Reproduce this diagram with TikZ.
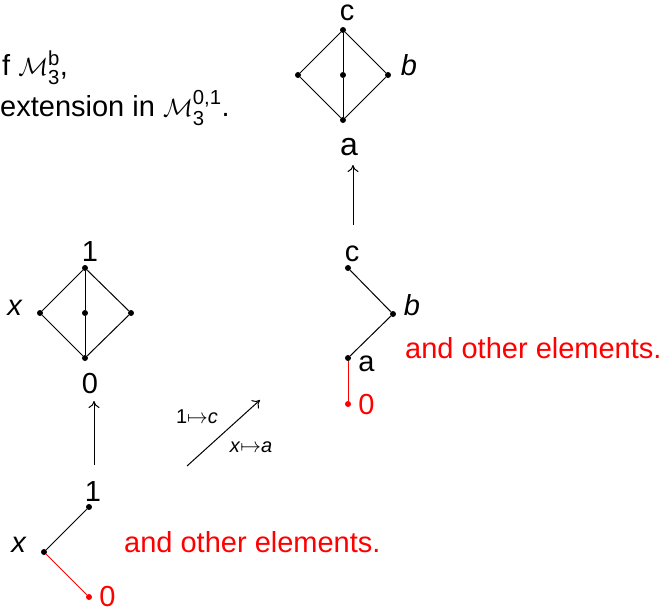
\documentclass[tikz,border=0pt]{standalone}
\usepackage{amsmath}
\usepackage{fontspec}
\setmainfont{Liberation Sans}
\usetikzlibrary{arrows.meta}
\begin{document}
\begin{tikzpicture}[x=1pt,y=-1pt,
  dot/.style={circle,fill,inner sep=0pt,minimum size=6pt},
  reddot/.style={dot,fill=red},
  edge/.style={line width=1pt},
  rededge/.style={line width=1pt,draw=red},
  lbl/.style={inner sep=0pt,font=\fontsize{29}{34}\selectfont},
  biglbl/.style={inner sep=0pt,font=\fontsize{32}{37}\selectfont},
  redlbl/.style={lbl,text=red},
  maplbl/.style={inner sep=0pt,font=\fontsize{20}{24}\selectfont},
  arr/.style={line width=1pt,-{To[length=7pt,width=11pt]}}]
\useasboundingbox (0,0) rectangle (662,611);

% top-left text
\node[lbl,anchor=base west] (t1) at (2,75) {f $\mathcal{M}_{\text{3}}^{\mathrm{b}}$,};
\node[lbl,anchor=base west] (t2) at (0,116) {extension in $\mathcal{M}_{\text{3}}^{\text{0,1}}$.};

% top diamond
\node[dot] (tc) at (343,30) {};
\node[dot] (tl) at (298,75) {};
\node[dot] (tm) at (343,75) {};
\node[dot] (tr) at (388,75) {};
\node[dot] (tb) at (343,120) {};
\draw[edge] (tc) -- (tl) -- (tb) -- (tr) -- (tc);
\draw[edge] (tc) -- (tm) -- (tb);
\node[lbl] (ltc) at (347,13) {c};
\node[lbl] (ltb) at (409,65) {\textit{b}};
\node[biglbl] (lta) at (349,147) {a};

% arrow top
\coordinate (a1s) at (353,225);
\coordinate (a1e) at (353,165);
\draw[arr] (a1s) -- (a1e);

% left diamond
\node[dot] (dc) at (85,268) {};
\node[dot] (dl) at (40,313) {};
\node[dot] (dm) at (85,313) {};
\node[dot] (dr) at (131,313) {};
\node[dot] (db) at (85,358) {};
\draw[edge] (dc) -- (dl) -- (db) -- (dr) -- (dc);
\draw[edge] (dc) -- (dm) -- (db);
\node[lbl] (ld1) at (90,252) {1};
\node[lbl] (ldx) at (15,308) {\textit{x}};
\node[lbl] (ld0) at (90,384) {0};

% arrow left
\coordinate (a2s) at (94,465);
\coordinate (a2e) at (94,401);
\draw[arr] (a2s) -- (a2e);

% diagonal arrow
\coordinate (a3s) at (187,466);
\coordinate (a3e) at (260,400);
\draw[arr] (a3s) -- (a3e);
\node[maplbl] (m1) at (197,417) {1$\mapsto$\textit{c}};
\node[maplbl] (m2) at (251,447) {\textit{x}$\mapsto$\textit{a}};

% right chain
\node[dot] (rc) at (348,268) {};
\node[dot] (rb) at (393,314) {};
\node[dot] (ra) at (348,358) {};
\node[reddot] (r0) at (348,404) {};
\draw[edge] (rc) -- (rb) -- (ra);
\draw[rededge] (ra) -- (r0);
\node[lbl] (lrc) at (352,254) {c};
\node[lbl] (lrb) at (412,305) {\textit{b}};
\node[lbl] (lra) at (366.5,364) {a};
\node[redlbl] (lr0) at (366.5,405) {0};
\node[redlbl,anchor=base west] (rother) at (405,358) {and other elements.};

% bottom chain
\node[dot] (b1) at (89,507) {};
\node[dot] (bx) at (44,552) {};
\node[reddot] (b0) at (89,597) {};
\draw[edge] (b1) -- (bx);
\draw[rededge] (bx) -- (b0);
\node[lbl] (lb1) at (93,492) {1};
\node[lbl] (lbx) at (19,545) {\textit{x}};
\node[redlbl] (lb0) at (107.5,597) {0};
\node[redlbl,anchor=base west] (bother) at (124,552) {and other elements.};
\end{tikzpicture}
\end{document}
